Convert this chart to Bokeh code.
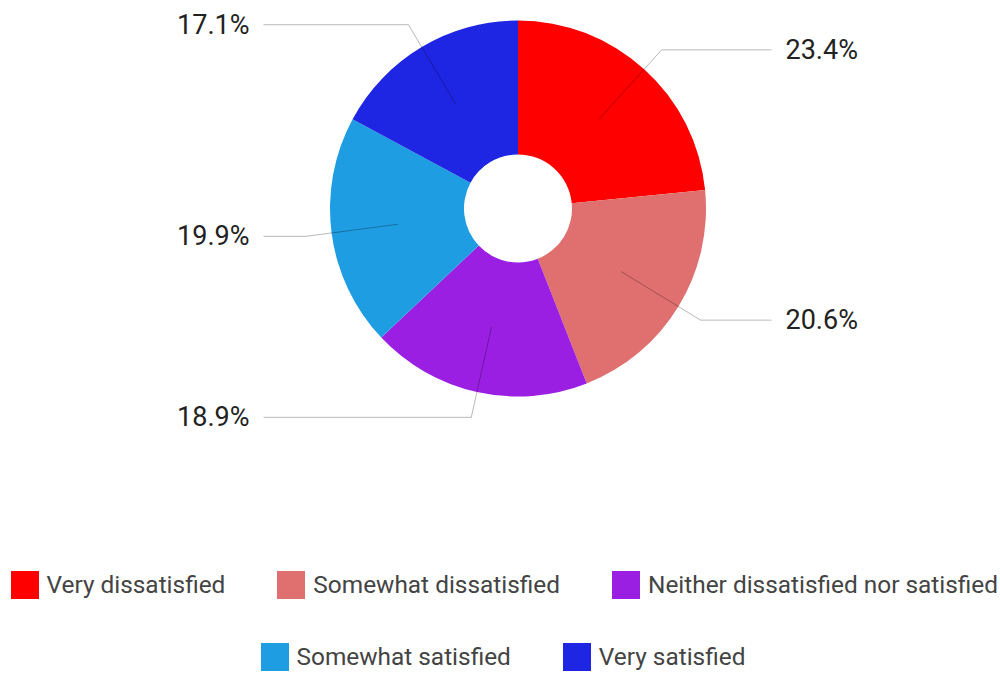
import numpy as np
from bokeh.plotting import figure
from bokeh.models import ColumnDataSource, Range1d, Legend, LegendItem
from bokeh.embed import file_html
from bokeh.resources import INLINE
from bokeh.core.properties import value

categories = ["Very dissatisfied", "Somewhat dissatisfied",
              "Neither dissatisfied nor satisfied", "Somewhat satisfied",
              "Very satisfied"]
percents = [23.4, 20.6, 18.9, 19.9, 17.1]
labels = ["23.4%", "20.6%", "18.9%", "19.9%", "17.1%"]
colors = ["#FF0000", "#E06F6F", "#9A1FE3", "#1F9DE3", "#1E25E3"]

W, H = 1000, 673
p = figure(width=W, height=H, x_range=Range1d(0, W), y_range=Range1d(0, H),
           output_backend="svg", toolbar_location=None, min_border=0)
p.axis.visible = False
p.grid.visible = False
p.outline_line_color = None

cx, cy = 517.5, 465.0
r_in, r_out = 54, 188
r_lead0, r_lead1 = 121, 214

vals = np.array(percents, dtype=float)
frac = vals / vals.sum()
cum = np.concatenate([[0.0], np.cumsum(frac)])
start = np.pi / 2 - cum[:-1] * 2 * np.pi
end = np.pi / 2 - cum[1:] * 2 * np.pi
mid = (start + end) / 2

src = ColumnDataSource(dict(cat=categories, color=colors, start=start, end=end,
                            x=[cx] * 5, y=[cy] * 5))
wr = p.annular_wedge(x="x", y="y", inner_radius=r_in, outer_radius=r_out,
                     start_angle="start", end_angle="end", direction="clock",
                     fill_color="color", line_color=None, source=src)

# leader lines and labels
xs, ys, lx, ly, align = [], [], [], [], []
for m in mid:
    x0, y0 = cx + r_lead0 * np.cos(m), cy + r_lead0 * np.sin(m)
    x1, y1 = cx + r_lead1 * np.cos(m), cy + r_lead1 * np.sin(m)
    right = np.cos(m) > 0
    x2 = 771 if right else 263
    xs.append([x0, x1, x2])
    ys.append([y0, y1, y1])
    lx.append(785 if right else 249)
    ly.append(y1)
    align.append("left" if right else "right")

p.multi_line(xs=xs, ys=ys, line_color="black", line_alpha=0.28, line_width=1)
p.text(x=lx, y=ly, text=labels, text_align=align, text_baseline="middle",
       text_font=value("Roboto"), text_font_size="27px", text_color="#222222")

common = dict(orientation="horizontal", glyph_width=35, glyph_height=35,
              label_standoff=5, spacing=48, padding=0, margin=0,
              border_line_color=None, background_fill_alpha=0,
              label_text_font="Roboto", label_text_font_size="24.4px",
              label_text_color="#444444")
leg1 = Legend(items=[LegendItem(label=categories[i], renderers=[wr], index=i) for i in range(3)],
              location=(6.5, 71), **common)
leg2 = Legend(items=[LegendItem(label=categories[i], renderers=[wr], index=i) for i in range(3, 5)],
              location=(256.5, -0.5), **common)
p.add_layout(leg1)
p.add_layout(leg2)

open("out.html", "w").write(file_html(p, INLINE))
